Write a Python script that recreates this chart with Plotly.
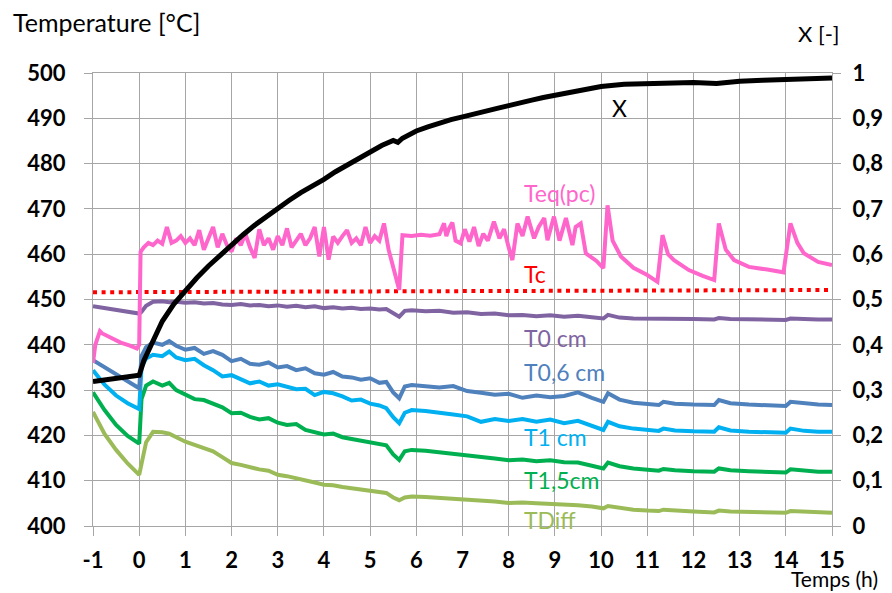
import plotly.graph_objects as go

fnt = "Lato"

# time grid of the probe temperatures (h)
t_probe = [-1, -0.75, -0.5, -0.25, 0, 0.05, 0.15, 0.3, 0.5, 0.65,
           0.8, 1.0, 1.2, 1.4, 1.6, 1.8, 2.0, 2.2, 2.4, 2.6,
           2.8, 3.0, 3.2, 3.4, 3.6, 3.8, 4.0, 4.2, 4.4, 4.6,
           4.8, 5.0, 5.2, 5.35, 5.5, 5.63, 5.75, 5.9, 6.2, 6.5,
           6.8, 7.1, 7.4, 7.7, 8.0, 8.3, 8.6, 8.9, 9.2, 9.5,
           9.8, 10.05, 10.15, 10.4, 10.7, 11.0, 11.25, 11.35, 11.6, 12.0,
           12.45, 12.55, 12.8, 13.2, 13.6, 14.0, 14.1, 14.4, 14.7, 15.0]

t0_cm = [448.5, 448.1, 447.7, 447.3, 446.9, 447.3, 448.6, 449.5, 449.6, 449.4,
         449.5, 449.3, 449.4, 449.1, 449.2, 448.9, 448.8, 449.0, 448.7, 448.8,
         448.5, 448.7, 448.4, 448.6, 448.3, 448.5, 448.1, 448.3, 448.0, 448.2,
         447.9, 448.0, 447.8, 447.9, 447.0, 446.2, 447.5, 447.6, 447.4, 447.5,
         447.1, 447.2, 446.8, 446.9, 446.5, 446.6, 446.3, 446.5, 446.2, 446.4,
         446.1, 445.8, 446.6, 446.0, 445.8, 445.8, 445.7, 445.9, 445.7, 445.7,
         445.6, 445.9, 445.7, 445.6, 445.6, 445.5, 445.8, 445.6, 445.6, 445.6]

t06_cm = [436.6, 435.0, 433.6, 432.0, 430.4, 437.5, 439.5, 440.5, 440.0, 440.8,
          439.8, 438.9, 439.3, 438.0, 438.6, 437.8, 436.4, 436.9, 435.8, 435.6,
          436.1, 435.0, 435.3, 434.4, 434.8, 433.7, 433.4, 434.0, 433.0, 432.8,
          432.3, 432.6, 431.6, 431.8, 429.5, 428.2, 430.8, 431.1, 430.9, 430.6,
          430.9, 429.8, 429.4, 429.0, 429.2, 428.3, 428.8, 428.4, 428.7, 429.5,
          428.3, 427.4, 429.3, 427.9, 427.2, 426.9, 426.7, 427.4, 427.0, 426.8,
          426.7, 427.8, 427.1, 426.8, 426.7, 426.5, 427.4, 427.0, 426.8, 426.7]

t1_cm = [434.4, 431.2, 428.8, 427.1, 425.8, 435.0, 437.0, 437.8, 437.5, 438.5,
         437.2, 436.6, 436.9, 435.5, 434.4, 433.0, 433.3, 432.4, 431.5, 431.9,
         431.0, 431.3, 430.8, 430.2, 430.3, 428.9, 429.6, 429.3, 428.6, 427.7,
         427.9, 427.0, 426.6, 426.0, 424.0, 422.7, 425.0, 425.6, 425.4, 424.9,
         424.6, 424.2, 423.0, 423.6, 423.2, 423.6, 423.0, 423.5, 422.7, 423.2,
         422.0, 421.2, 423.0, 422.0, 421.5, 421.3, 421.0, 421.5, 421.1, 420.9,
         420.8, 421.8, 421.1, 420.8, 420.7, 420.6, 421.5, 421.0, 420.8, 420.8]

t15_cm = [429.5, 425.6, 422.3, 419.9, 418.2, 428.0, 431.0, 431.9, 431.0, 431.6,
          430.0, 428.9, 428.0, 427.8, 427.0, 426.2, 424.9, 425.0, 424.1, 423.5,
          423.8, 422.8, 422.3, 422.5, 421.2, 420.6, 420.2, 420.4, 419.6, 419.2,
          418.8, 418.3, 417.9, 417.8, 415.8, 414.6, 416.5, 416.8, 416.6, 416.3,
          416.0, 415.7, 415.2, 414.9, 414.5, 414.7, 414.3, 414.5, 414.1, 414.0,
          413.3, 412.7, 414.0, 413.2, 412.7, 412.5, 412.2, 412.6, 412.3, 412.1,
          412.0, 412.7, 412.3, 412.1, 412.0, 411.8, 412.5, 412.2, 412.0, 412.0]

t_diff = [425.2, 420.3, 416.8, 413.8, 411.3, 413.5, 418.5, 420.8, 420.7, 420.4,
          419.6, 418.6, 417.9, 417.3, 416.5, 415.2, 413.9, 413.5, 412.9, 412.5,
          412.2, 411.3, 411.0, 410.6, 410.1, 409.6, 409.1, 409.0, 408.6, 408.3,
          408.0, 407.7, 407.6, 407.3, 406.3, 405.7, 406.3, 406.5, 406.4, 406.2,
          406.1, 406.0, 405.6, 405.4, 405.1, 405.2, 405.0, 404.9, 404.8, 404.6,
          404.3, 403.9, 404.4, 404.0, 403.6, 403.4, 403.3, 403.6, 403.4, 403.2,
          403.0, 403.4, 403.2, 403.1, 403.0, 402.9, 403.3, 403.1, 403.0, 402.9]

# Teq(pc)
t_teq = [-1, -0.95, -0.85, -0.8, -0.6, -0.4, -0.2, -0.05, 0.0, 0.03,
         0.1, 0.2, 0.3, 0.4, 0.5, 0.6, 0.7, 0.8, 0.9, 1.0,
         1.1, 1.2, 1.3, 1.4, 1.5, 1.6, 1.7, 1.8, 1.9, 2.0,
         2.1, 2.2, 2.3, 2.4, 2.5, 2.6, 2.7, 2.8, 2.9, 3.0,
         3.1, 3.2, 3.3, 3.4, 3.5, 3.6, 3.7, 3.8, 3.9, 4.0,
         4.1, 4.2, 4.3, 4.4, 4.5, 4.6, 4.7, 4.8, 4.9, 5.0,
         5.1, 5.2, 5.3, 5.4, 5.5, 5.6, 5.63, 5.7, 5.9, 6.1,
         6.3, 6.5, 6.6, 6.65, 6.7, 6.78, 6.85, 6.96, 7.05, 7.15,
         7.25, 7.35, 7.45, 7.55, 7.68, 7.8, 7.9, 8.0, 8.08, 8.19,
         8.3, 8.41, 8.55, 8.65, 8.77, 8.84, 8.98, 9.1, 9.24, 9.38,
         9.45, 9.56, 9.67, 9.9, 10.05, 10.14, 10.25, 10.43, 10.7, 11.0,
         11.22, 11.33, 11.45, 11.58, 11.9, 12.2, 12.45, 12.55, 12.7, 12.88,
         13.2, 13.6, 13.95, 14.1, 14.25, 14.39, 14.7, 15.0]
teq = [436.0, 440.0, 443.0, 442.5, 441.5, 440.5, 439.8, 439.2, 440.0, 460.5,
       461.5, 462.5, 462.0, 463.0, 462.3, 466.0, 462.5, 463.0, 464.0, 462.5,
       463.5, 462.0, 465.3, 461.0, 463.5, 466.0, 461.5, 464.5, 462.0, 460.6,
       463.5, 462.0, 464.5, 461.5, 459.2, 465.5, 462.0, 463.5, 461.0, 464.0,
       462.0, 465.7, 461.5, 463.0, 464.5, 462.0, 463.5, 466.0, 459.5, 466.0,
       458.8, 463.9, 462.5, 464.0, 465.3, 462.5, 463.5, 462.0, 466.0, 462.5,
       464.0, 463.0, 466.8, 461.0, 457.0, 453.5, 452.1, 464.2, 464.0, 464.3,
       464.1, 464.4, 466.8, 464.0, 465.5, 467.0, 463.0, 462.4, 465.5, 462.8,
       466.0, 461.8, 464.5, 463.0, 467.2, 463.5, 465.5, 461.5, 458.7, 466.8,
       464.0, 468.3, 463.5, 466.0, 468.0, 463.1, 468.3, 463.0, 468.0, 462.0,
       466.0, 466.8, 460.2, 458.5, 456.9, 470.8, 463.0, 459.5, 457.0, 455.4,
       453.9, 464.2, 460.0, 458.7, 456.5, 455.2, 454.3, 466.8, 461.0, 458.7,
       457.2, 456.6, 456.0, 466.8, 462.5, 460.2, 458.3, 457.6]

# Tc
t_tc = [-1, 15]
tc = [451.6, 452.1]

# conversion X (right axis)
t_x = [-1, -0.75, -0.5, -0.25, 0, 0.1, 0.25, 0.5, 0.75, 1,
       1.25, 1.5, 1.75, 2, 2.25, 2.5, 2.75, 3, 3.25, 3.5,
       3.75, 4, 4.25, 4.5, 4.75, 5, 5.25, 5.5, 5.6, 5.7,
       6, 6.25, 6.5, 6.75, 7, 7.25, 7.5, 7.75, 8, 8.25,
       8.5, 8.75, 9, 9.25, 9.5, 9.75, 10, 10.5, 11, 11.5,
       12, 12.5, 13, 13.5, 14, 14.5, 15]
conv_x = [0.319, 0.322, 0.326, 0.330, 0.333, 0.365, 0.400, 0.452, 0.490, 0.520,
          0.548, 0.574, 0.598, 0.620, 0.643, 0.664, 0.683, 0.702, 0.719, 0.736,
          0.750, 0.765, 0.782, 0.797, 0.813, 0.828, 0.840, 0.851, 0.847, 0.856,
          0.872, 0.881, 0.890, 0.897, 0.903, 0.910, 0.916, 0.922, 0.928, 0.933,
          0.940, 0.946, 0.951, 0.956, 0.961, 0.966, 0.970, 0.975, 0.977, 0.978,
          0.979, 0.977, 0.982, 0.984, 0.985, 0.987, 0.989]

x_ticks = list(range(-1, 16))
x_text = [str(v) for v in x_ticks]
y_ticks = list(range(400, 501, 10))
y2_vals = [0, 0.1, 0.2, 0.3, 0.4, 0.5, 0.6, 0.7, 0.8, 0.9, 1]
y2_text = ["0", "0,1", "0,2", "0,3", "0,4", "0,5", "0,6", "0,7", "0,8", "0,9", "1"]

grid = "#a6a6a6"
tickfont = dict(family=fnt, size=22, color="black", weight="bold")

fig = go.Figure()
fig.add_trace(go.Scatter(x=t_tc, y=tc, mode="lines",
                         line=dict(color="#ff0000", width=4, dash="4px,4.6px")))
series = [(t_diff, "#9bbb59"), (t15_cm, "#00b050"), (t1_cm, "#00b0f0"),
          (t06_cm, "#4f81bd"), (t0_cm, "#8064a2")]
for vals, col in series:
    fig.add_trace(go.Scatter(x=t_probe, y=vals, mode="lines",
                             line=dict(color=col, width=4)))
fig.add_trace(go.Scatter(x=t_teq, y=teq, mode="lines",
                         line=dict(color="#ff66cc", width=4)))
fig.add_trace(go.Scatter(x=t_x, y=conv_x, mode="lines", yaxis="y2",
                         line=dict(color="black", width=5)))

labels = [
    (10.39, 492.3, "X", "black", "center"),
    (8.29, 473.5, "Teq(pc)", "#ff66cc", "left"),
    (8.29, 455.6, "Tc", "#ff0000", "left"),
    (8.29, 441.5, "T0 cm", "#8064a2", "left"),
    (8.29, 434.0, "T0,6 cm", "#4f81bd", "left"),
    (8.29, 419.6, "T1 cm", "#00b0f0", "left"),
    (8.29, 410.2, "T1,5cm", "#00b050", "left"),
    (8.29, 401.3, "TDiff", "#9bbb59", "left"),
]
annotations = [dict(x=x, y=y, text=s, showarrow=False, xanchor=a, yanchor="middle",
                    font=dict(family=fnt, size=23, color=c))
               for x, y, s, c, a in labels]
annotations += [
    dict(x=0.0176, y=1.112, xref="paper", yref="paper", text="Temperature [°C]",
         showarrow=False, xanchor="center", yanchor="middle",
         font=dict(family=fnt, size=25, color="black")),
    dict(x=0.982, y=1.088, xref="paper", yref="paper", text="X [-]",
         showarrow=False, xanchor="center", yanchor="middle",
         font=dict(family=fnt, size=22, color="black")),
    dict(x=1.004, y=-0.116, xref="paper", yref="paper", text="Temps (h)",
         showarrow=False, xanchor="center", yanchor="middle",
         font=dict(family=fnt, size=21, color="black")),
]

# the page body adds an 8px offset, margins are set so the plot area lands in place
fig.update_layout(
    width=892, height=593,
    margin=dict(l=85, r=68, t=65, b=75),
    paper_bgcolor="white", plot_bgcolor="white",
    showlegend=False,
    annotations=annotations,
    xaxis=dict(range=[-1, 15], tickvals=x_ticks, ticktext=x_text, showgrid=True,
               gridcolor=grid, gridwidth=1, zeroline=False, showline=True,
               linecolor=grid, mirror=True, ticks="outside", ticklen=9,
               tickcolor=grid, tickfont=tickfont, ticklabelstandoff=6),
    yaxis=dict(range=[400, 500], tickvals=y_ticks, showgrid=True, gridcolor=grid,
               gridwidth=1, zeroline=False, showline=True, linecolor=grid,
               mirror=True, ticks="outside", ticklen=8, tickcolor=grid,
               tickfont=tickfont, ticklabelstandoff=14),
    yaxis2=dict(range=[0, 1], overlaying="y", side="right", tickvals=y2_vals,
                ticktext=y2_text, showgrid=False, zeroline=False,
                ticks="outside", ticklen=8, tickcolor=grid,
                tickfont=tickfont, ticklabelstandoff=7),
)

fig.write_html("out.html")
